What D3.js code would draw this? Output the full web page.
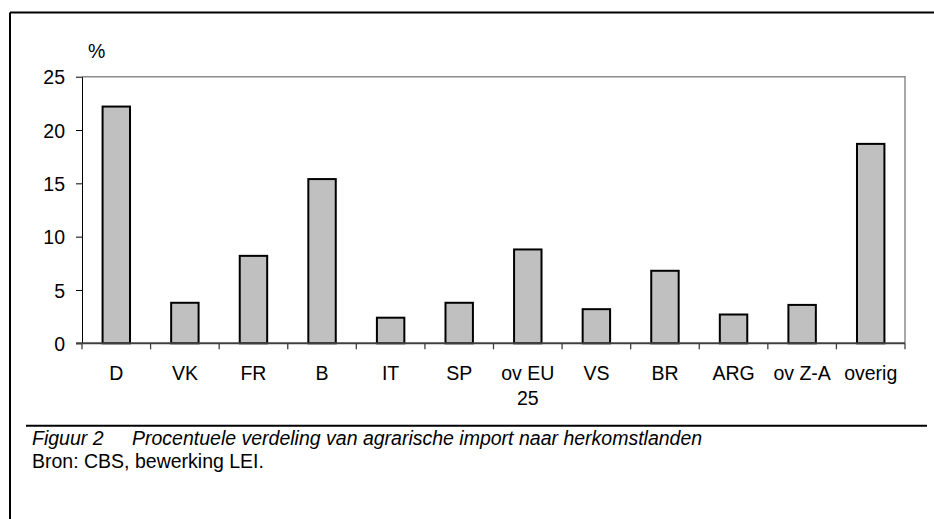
<!DOCTYPE html>
<html>
<head>
	<meta charset="utf-8">
	<script src="https://cdnjs.cloudflare.com/ajax/libs/d3/7.8.5/d3.min.js"></script>
	<style type="text/css">
		body { margin: 0; background: #fff; }
		svg { display: block; font-family: "Liberation Sans", Arial, sans-serif; }
		.axis text { font-size: 19.5px; fill: #000; }
		.caption { font-size: 19.5px; fill: #000; }
	</style>
</head>
<body>
<div id="chart"></div>
<script type="text/javascript">

// categories (herkomstlanden) and share of agrarian import, %
var landen   = ["D", "VK", "FR", "B", "IT", "SP", "ov EU 25", "VS", "BR", "ARG", "ov Z-A", "overig"];
var aandeel  = [22.2, 3.8, 8.2, 15.4, 2.4, 3.8, 8.8, 3.2, 6.8, 2.7, 3.6, 18.7];
var yTicks   = [0, 5, 10, 15, 20, 25];

var W = 934, H = 519;
var plotL = 82, plotR = 905, plotT = 76.7, plotB = 343.3;

var svg = d3.select("#chart").append("svg")
	.attr("width", W)
	.attr("height", H);

// outer frame (only top and left visible)
svg.append("line").attr("x1", 10).attr("x2", W).attr("y1", 12.5).attr("y2", 12.5)
	.attr("stroke", "#000").attr("stroke-width", 2);
svg.append("line").attr("x1", 10).attr("x2", 10).attr("y1", 12.5).attr("y2", H)
	.attr("stroke", "#000").attr("stroke-width", 2);

var x = d3.scaleBand()
	.domain(landen)
	.range([plotL, plotR])
	.paddingInner(0.6)
	.paddingOuter(0.3);

var y = d3.scaleLinear()
	.domain([0, 25])
	.range([plotB, plotT]);

// plot area border top / right
svg.append("path")
	.attr("d", "M" + plotL + "," + y(25) + "H" + plotR + "V" + y(0))
	.attr("fill", "none")
	.attr("stroke", "#8c8c8c")
	.attr("stroke-width", 1.5);

// bars
svg.append("g").selectAll("rect")
	.data(aandeel)
	.enter().append("rect")
	.attr("x", function(d, i) { return x(landen[i]); })
	.attr("y", function(d) { return y(d); })
	.attr("width", x.bandwidth())
	.attr("height", function(d) { return y(0) - y(d); })
	.attr("fill", "#c0c0c0")
	.attr("stroke", "#000")
	.attr("stroke-width", 2);

// y axis
var yAxis = svg.append("g")
	.attr("class", "axis")
	.attr("transform", "translate(" + plotL + ",0)")
	.call(d3.axisLeft(y).tickValues(yTicks).tickSize(6).tickPadding(11).tickSizeOuter(0));
yAxis.select(".domain").attr("stroke", "#000").attr("stroke-width", 1);
yAxis.selectAll(".tick line").attr("stroke", "#000");
yAxis.selectAll(".tick text").attr("dy", "0.36em").style("font-size", null);

// x axis: labels under the bands, ticks on the band boundaries
var xAxis = svg.append("g")
	.attr("class", "axis")
	.attr("transform", "translate(0," + y(0) + ")")
	.call(d3.axisBottom(x).tickSize(0).tickPadding(23));
xAxis.select(".domain").remove();

xAxis.selectAll(".tick text").each(function(d) {
	var t = d3.select(this);
	if (d === "ov EU 25") {
		t.text(null);
		t.append("tspan").attr("x", 0).text("ov EU");
		t.append("tspan").attr("x", 0).attr("dy", "1.3em").text("25");
	}
});

var half = x.step() * x.paddingInner() / 2;
var bounds = landen.map(function(d) { return x(d) - half; });
bounds.push(plotR);

xAxis.selectAll("line.bound")
	.data(bounds)
	.enter().append("line")
	.attr("class", "bound")
	.attr("x1", function(d) { return d; })
	.attr("x2", function(d) { return d; })
	.attr("y1", 0)
	.attr("y2", 6)
	.attr("stroke", "#404040")
	.attr("stroke-width", 1.3);

xAxis.append("line")
	.attr("x1", plotL - 6).attr("x2", plotR)
	.attr("y1", 0).attr("y2", 0)
	.attr("stroke", "#404040")
	.attr("stroke-width", 2);

// unit label
svg.append("text")
	.attr("class", "caption")
	.attr("x", 88)
	.attr("y", 57.5)
	.text("%");

// caption rule + captions
svg.append("line").attr("x1", 26).attr("x2", 927).attr("y1", 425.7).attr("y2", 425.7)
	.attr("stroke", "#000").attr("stroke-width", 2);

var cap = svg.append("text")
	.attr("class", "caption")
	.attr("y", 445)
	.style("font-style", "italic");
cap.append("tspan").attr("x", 32).text("Figuur 2");
cap.append("tspan").attr("x", 132).text("Procentuele verdeling van agrarische import naar herkomstlanden");

svg.append("text")
	.attr("class", "caption")
	.attr("x", 32)
	.attr("y", 468)
	.text("Bron: CBS, bewerking LEI.");

</script>
</body>
</html>
